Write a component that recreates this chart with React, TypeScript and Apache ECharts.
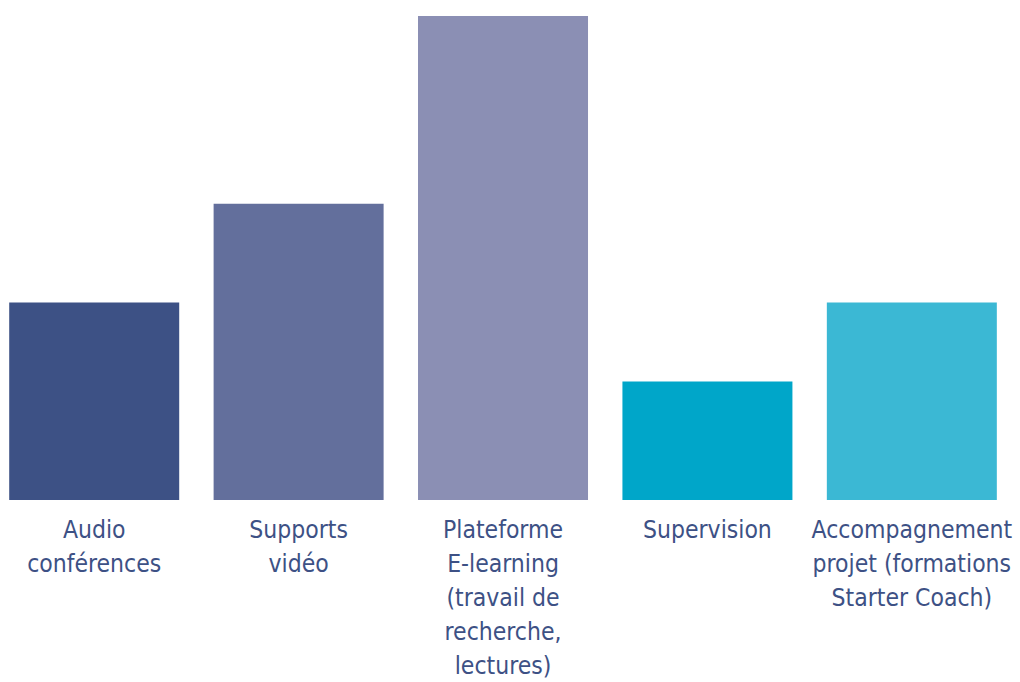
import React, { useEffect, useRef } from "react";
import * as echarts from "echarts";

const categories = [
  "Audio\nconférences",
  "Supports\nvidéo",
  "Plateforme\nE-learning\n(travail de\nrecherche,\nlectures)",
  "Supervision",
  "Accompagnement\nprojet (formations\nStarter Coach)",
];
const values = [10, 15, 24.5, 6, 10];
const colors = ["#3d5185", "#636f9c", "#8b8fb4", "#00a6c9", "#3bb8d4"];

export default function App() {
  const ref = useRef<HTMLDivElement>(null);
  useEffect(() => {
    if (!ref.current) return;
    const chart = echarts.init(ref.current, undefined, { renderer: "svg" });
    chart.setOption({
      animation: false,
      grid: { left: 0, right: 0, top: 16, bottom: 180 },
      xAxis: {
        type: "category",
        data: categories,
        axisLine: { show: false },
        axisTick: { show: false },
        axisLabel: {
          interval: 0,
          margin: 12,
          color: "#3d5185",
          fontSize: 24.5,
          lineHeight: 34,
          fontFamily: "'Liberation Sans Narrow', 'DejaVu Sans Condensed', 'Roboto', sans-serif",
        },
      },
      yAxis: {
        type: "value",
        min: 0,
        max: 24.5,
        show: false,
        splitLine: { show: false },
      },
      series: [
        {
          type: "bar",
          data: values.map((v, i) => ({ value: v, itemStyle: { color: colors[i] } })),
          barWidth: 170,
        },
      ],
    });
    return () => chart.dispose();
  }, []);
  return (
    <div
      ref={ref}
      style={{ position: "fixed", left: -8, top: 0, width: 1023, height: 682, background: "#fff" }}
    />
  );
}
